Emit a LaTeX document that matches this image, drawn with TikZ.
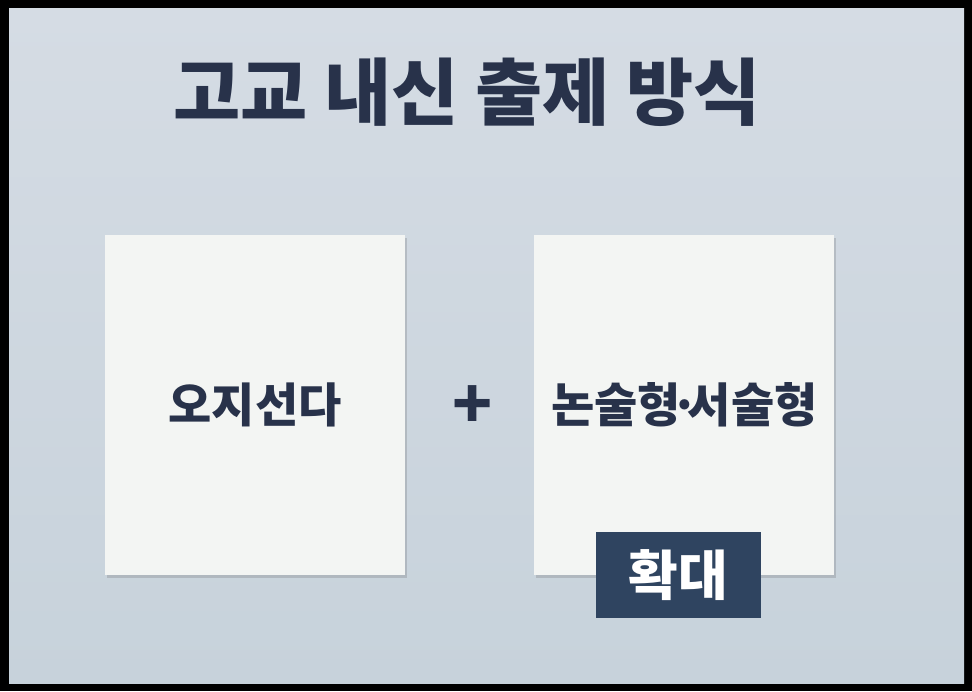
\documentclass[tikz,border=0pt]{standalone}
\usepackage{fontspec}
\setmainfont{Noto Sans CJK KR}
\usepackage{xcolor}
\definecolor{ink}{RGB}{40, 50, 74}
\definecolor{paper}{RGB}{243, 245, 243}
\definecolor{navy}{RGB}{47, 68, 96}
\definecolor{bgtop}{RGB}{213, 220, 228}
\definecolor{bgbot}{RGB}{199, 210, 219}
\usetikzlibrary{positioning,shadows,calc}

\begin{document}
\begin{tikzpicture}[x=1pt, y=-1pt,
        node distance=0pt and 129pt,
        card/.style={rectangle, fill=paper, minimum width=300pt, minimum height=340pt, inner sep=0pt,
            drop shadow={shadow xshift=2pt, shadow yshift=-3pt, opacity=0.2, fill=black!70}},
        label/.style={font=\fontsize{47}{50}\selectfont\bfseries, text=ink},
        tag/.style={rectangle, fill=navy, text=white, minimum width=165pt, minimum height=86pt,
            font=\fontsize{54}{58}\selectfont\bfseries},
        title/.style={font=\fontsize{73}{78}\selectfont\bfseries, text=ink}
    ]
    % frame and backdrop
    \fill[black] (0,0) rectangle (972,691);
    \shade[top color=bgtop, bottom color=bgbot] (9,8) rectangle (964,683);

    \node[title] (head) at (467,92) {고교 내신 출제 방식};
    \node[card] (lbox) at (255,405) {};
    \node[card, right=of lbox] (rbox) {};
    \node[label] at (lbox) (mcq) {오지선다};
    \node[label] at (rbox) (essay) {논술형\kern-.23em·\kern-.23em서술형};
    \node[font=\fontsize{66}{68}\selectfont\bfseries, text=ink] (plus) at ($(lbox.east)!0.5!(rbox.west)+(3,2)$) {+};
    \node[tag] (more) at ([xshift=-6pt]rbox.south) {확대};
\end{tikzpicture}
\end{document}
